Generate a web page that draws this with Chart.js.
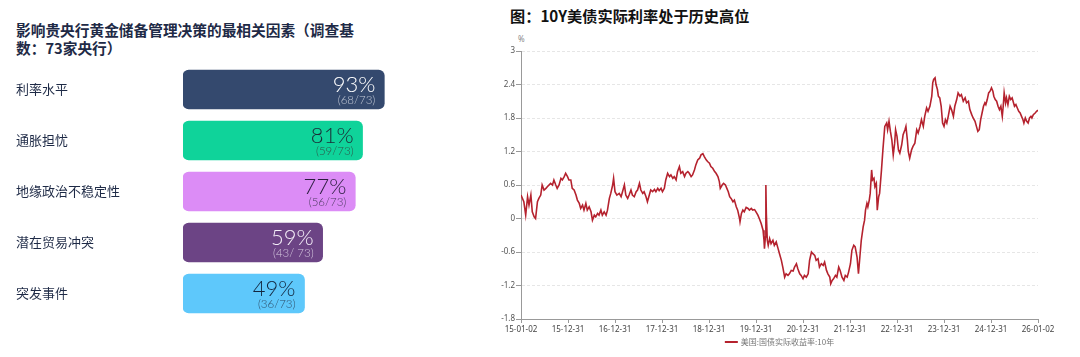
<!DOCTYPE html>
<html><head><meta charset="utf-8">
<script src="https://cdn.jsdelivr.net/npm/chart.js@4.4.1/dist/chart.umd.min.js"></script>
<style>
html,body{margin:0;padding:0;background:#fff}
body{width:1080px;height:357px;position:relative;overflow:hidden;font-family:"Noto Sans CJK SC",sans-serif}
#lt{position:absolute;left:16px;top:21px;font-size:14.7px;line-height:18px;font-weight:700;color:#1e2a46;white-space:nowrap}
#rt{position:absolute;left:510px;top:5px;font-size:15.2px;line-height:20px;font-weight:700;color:#111;white-space:nowrap}
#unit{position:absolute;left:518px;top:33px;font-size:8px;color:#888;font-family:"Noto Sans",sans-serif}
#c1{position:absolute;left:0;top:0}
#c2{position:absolute;left:480px;top:0}
</style></head>
<body>
<div id="lt">影响贵央行黄金储备管理决策的最相关因素（调查基<br>数：73家央行）</div>
<div id="rt">图：10Y美债实际利率处于历史高位</div>
<div id="unit">%</div>
<canvas id="c1" width="420" height="357"></canvas>
<canvas id="c2" width="600" height="357"></canvas>
<script>
// ---- left panel data ----
const factorLabels = ['利率水平','通胀担忧','地缘政治不稳定性','潜在贸易冲突','突发事件'];
const factorPct = [93, 81, 77, 59, 49];
const factorCounts = ['(68/73)','(59/73)','(56/73)','(43/ 73)','(36/73)'];
const barColors = ['#34496e','#0fd39a','#dc8cf6','#6c4485','#5ec8fb'];
const pctTextColors = ['#ffffff','#1b2b36','#2a1d3e','#f4eef8','#13263e'];
const subTextColors = ['#c3c9d6','#2f5548','#4b3a60','#d6c9df','#2e4d68'];

// ---- right panel data ----
const seriesName = '美国:国债实际收益率:10年';
const xTickPos = [2015,2016,2017,2018,2019,2020,2021,2022,2023,2024,2025,2026];
const xTickLabels = ['15-01-02','15-12-31','16-12-31','17-12-31','18-12-31','19-12-31','20-12-31','21-12-31','22-12-31','23-12-31','24-12-31','26-01-02'];
const yTickVals = [-1.8,-1.2,-0.6,0,0.6,1.2,1.8,2.4,3];
const yieldYears = [
2015.00,2015.06,2015.10,2015.14,2015.17,2015.21,2015.24,2015.28,2015.31,2015.35,2015.38,2015.42,2015.45,2015.49,2015.53,2015.56,2015.63,2015.67,2015.70,2015.74,
2015.77,2015.81,2015.85,2015.88,2015.92,2015.95,2015.99,2016.02,2016.06,2016.09,2016.13,2016.17,2016.20,2016.24,2016.27,2016.31,2016.34,2016.38,2016.41,2016.45,
2016.49,2016.52,2016.56,2016.59,2016.63,2016.66,2016.70,2016.73,2016.77,2016.81,2016.84,2016.88,2016.91,2016.95,2016.97,2017.00,2017.04,2017.09,2017.13,2017.16,
2017.20,2017.23,2017.27,2017.30,2017.34,2017.37,2017.41,2017.45,2017.48,2017.52,2017.55,2017.59,2017.62,2017.66,2017.69,
2017.73,2017.76,2017.80,2017.84,2017.87,2017.91,2017.94,2017.98,2018.01,2018.05,2018.08,2018.12,2018.16,2018.19,2018.23,2018.26,2018.30,2018.33,2018.37,2018.40,
2018.44,2018.48,2018.51,2018.55,2018.58,2018.62,2018.65,2018.69,2018.72,2018.76,2018.80,2018.83,2018.87,2018.90,2018.94,2018.97,2019.01,2019.04,2019.08,2019.12,
2019.15,2019.19,2019.22,2019.24,2019.28,2019.31,2019.35,2019.38,2019.41,2019.44,2019.47,2019.51,2019.54,2019.58,2019.61,2019.65,2019.66,2019.69,2019.72,2019.75,
2019.79,2019.83,2019.86,2019.90,2019.93,2019.97,2020.00,2020.04,2020.07,2020.11,2020.15,2020.17,2020.18,2020.20,2020.21,2020.22,2020.24,2020.26,2020.29,2020.32,
2020.36,2020.39,2020.43,2020.47,2020.50,2020.54,2020.57,2020.61,2020.64,2020.68,
2020.71,2020.75,2020.79,2020.82,2020.86,2020.89,2020.93,2020.96,2021.00,2021.03,2021.07,2021.11,2021.14,2021.18,2021.21,2021.25,2021.28,2021.32,2021.35,2021.39,
2021.43,2021.46,2021.50,2021.53,2021.57,2021.59,2021.62,2021.65,2021.69,2021.72,2021.76,2021.79,2021.83,2021.87,2021.90,2021.94,2021.97,2022.01,2022.04,2022.08,
2022.11,2022.15,2022.18,2022.21,2022.24,2022.28,2022.31,2022.33,2022.36,2022.38,2022.41,2022.43,2022.46,2022.48,2022.51,2022.53,2022.56,2022.58,2022.61,2022.63,
2022.67,2022.70,2022.74,2022.78,2022.80,2022.83,2022.86,2022.89,2022.92,2022.95,2022.97,2023.00,2023.03,2023.06,
2023.10,2023.13,2023.17,2023.19,2023.22,2023.24,2023.27,2023.31,2023.34,2023.38,2023.42,2023.45,2023.49,2023.52,2023.56,2023.59,2023.63,2023.66,2023.70,2023.74,
2023.76,2023.78,2023.81,2023.83,2023.86,2023.88,2023.91,2023.94,2023.97,2024.00,2024.03,2024.06,2024.09,2024.13,2024.16,2024.20,2024.23,2024.27,2024.30,2024.34,
2024.37,2024.41,2024.45,2024.48,2024.52,2024.55,2024.59,2024.62,2024.66,2024.69,2024.72,2024.75,2024.78,2024.81,2024.84,2024.87,2024.89,2024.92,2024.95,2024.98,
2025.01,2025.04,2025.06,2025.09,2025.12,2025.15,2025.18,2025.21,2025.24,2025.26,2025.28,2025.31,2025.33,2025.36,2025.39,2025.42,2025.45,2025.48,2025.50,2025.53,
2025.56,2025.59,2025.62,2025.65,2025.68,2025.70,2025.73,2025.76,2025.79,2025.82,2025.85,2025.87,2025.90,2025.94,2025.97,2026.00
];
const realYield = [
0.42,0.30,0.06,0.39,0.24,0.42,0.12,0.03,0.00,0.30,0.36,0.42,0.60,0.51,0.54,0.57,0.63,0.60,0.69,0.60,
0.54,0.60,0.72,0.69,0.75,0.81,0.75,0.69,0.69,0.54,0.51,0.42,0.33,0.27,0.18,0.24,0.15,0.27,0.15,0.21,
0.12,-0.03,0.06,0.03,0.09,0.06,0.15,0.06,0.12,0.06,0.15,0.36,0.45,0.60,0.72,0.48,0.42,0.45,0.39,0.48,
0.60,0.42,0.36,0.42,0.51,0.42,0.39,0.48,0.51,0.63,0.51,0.45,0.48,0.39,0.30,
0.42,0.51,0.48,0.52,0.48,0.54,0.50,0.54,0.48,0.54,0.69,0.81,0.75,0.78,0.72,0.75,0.69,0.84,0.93,0.81,
0.84,0.75,0.81,0.84,0.81,0.75,0.78,0.87,0.96,1.05,1.08,1.14,1.16,1.11,1.05,1.02,0.99,0.93,0.90,0.84,
0.81,0.75,0.66,0.54,0.60,0.63,0.60,0.54,0.48,0.39,0.36,0.30,0.33,0.21,0.15,0.00,-0.06,0.09,0.15,0.12,
0.20,0.18,0.15,0.18,0.15,0.16,0.12,0.06,0.00,-0.09,-0.21,-0.39,-0.54,-0.33,0.60,0.09,-0.39,-0.48,-0.36,-0.45,
-0.39,-0.48,-0.42,-0.54,-0.63,-0.75,-0.87,-1.05,-0.99,-1.02,
-0.99,-0.93,-0.94,-0.87,-0.81,-0.90,-0.99,-1.02,-1.08,-1.02,-1.05,-0.99,-0.75,-0.60,-0.63,-0.66,-0.75,-0.72,-0.87,-0.81,
-0.84,-0.78,-0.93,-0.99,-1.05,-1.17,-1.11,-1.08,-1.02,-1.05,-0.87,-0.93,-1.05,-1.11,-1.02,-1.05,-0.96,-0.81,-0.57,-0.48,
-0.51,-0.69,-0.99,-0.69,-0.39,-0.15,-0.03,0.15,0.27,0.21,0.33,0.45,0.87,0.69,0.72,0.57,0.63,0.15,0.39,0.45,
0.87,1.23,1.65,1.71,1.59,1.74,1.56,1.41,1.14,1.35,1.59,1.47,1.23,1.17,
1.32,1.50,1.59,1.65,1.41,1.20,1.08,1.23,1.29,1.35,1.59,1.53,1.65,1.77,1.65,1.83,1.98,1.92,2.01,2.19,
2.43,2.49,2.52,2.40,2.31,2.19,2.16,2.01,1.71,1.65,1.77,1.71,1.83,2.01,1.95,1.83,2.01,2.13,2.25,2.19,
2.22,2.10,2.16,2.07,2.10,1.95,1.86,1.80,1.74,1.65,1.56,1.59,1.77,1.89,2.01,2.07,2.04,2.13,2.25,2.28,
2.34,2.28,2.19,2.13,2.10,2.01,1.95,2.01,1.83,2.01,2.25,2.07,2.16,2.04,2.19,2.13,2.16,2.07,2.01,2.04,
1.98,1.92,1.89,1.83,1.77,1.71,1.80,1.74,1.71,1.80,1.83,1.80,1.86,1.89,1.92,1.94
];

// ---- left: horizontal bar chart ----
const barText = {
  id:'barText',
  afterDatasetsDraw(chart){
    const ctx = chart.ctx;
    const meta = chart.getDatasetMeta(0);
    ctx.save();
    ctx.textAlign = 'right';
    ctx.textBaseline = 'alphabetic';
    meta.data.forEach((bar,i)=>{
      const xr = bar.x - 9;
      ctx.fillStyle = pctTextColors[i];
      ctx.font = '300 22px Lato, "Open Sans", sans-serif';
      ctx.fillText(factorPct[i] + '%', xr, bar.y + 2.5);
      ctx.fillStyle = subTextColors[i];
      ctx.font = '300 11.5px Lato, "Open Sans", sans-serif';
      ctx.fillText(factorCounts[i], xr, bar.y + 14);
    });
    ctx.restore();
  }
};

new Chart(document.getElementById('c1'), {
  type:'bar',
  data:{
    labels:factorLabels,
    datasets:[{
      data:factorPct,
      backgroundColor:barColors,
      borderRadius:6,
      borderSkipped:false,
      barThickness:39,
      base:-18
    }]
  },
  options:{
    indexAxis:'y',
    responsive:false,
    animation:false,
    layout:{padding:{left:16, right:23, top:64, bottom:38}},
    scales:{
      x:{min:-18, max:100, display:false},
      y:{
        grid:{display:false},
        border:{display:false},
        ticks:{crossAlign:'far', color:'#1e2a46', padding:0,
          font:{family:'"Noto Sans CJK SC"', size:13}},
        afterFit(a){ a.width = 167; }
      }
    },
    plugins:{legend:{display:false}, tooltip:{enabled:false}}
  },
  plugins:[barText]
});

// ---- right: line chart ----
const legendDraw = {
  id:'legendDraw',
  afterDraw(chart){
    const {ctx, chartArea} = chart;
    const ds = chart.data.datasets[0];
    ctx.save();
    ctx.font = '8px "Noto Sans CJK SC", sans-serif';
    const tw = ctx.measureText(ds.label).width;
    const sw = 13, gap = 3;
    const x0 = (chartArea.left + chartArea.right)/2 - (sw + gap + tw)/2;
    const y = chartArea.bottom + 23;
    ctx.strokeStyle = ds.borderColor;
    ctx.lineWidth = 2;
    ctx.beginPath(); ctx.moveTo(x0, y); ctx.lineTo(x0 + sw, y); ctx.stroke();
    ctx.fillStyle = '#777';
    ctx.textBaseline = 'middle';
    ctx.textAlign = 'left';
    ctx.fillText(ds.label, x0 + sw + gap, y);
    ctx.restore();
  }
};

new Chart(document.getElementById('c2'), {
  type:'line',
  data:{
    datasets:[{
      label:seriesName,
      data:yieldYears.map((x,i)=>({x:x, y:realYield[i]})),
      borderColor:'#b5222e',
      backgroundColor:'#b5222e',
      borderWidth:1.6,
      pointRadius:0,
      tension:0
    }]
  },
  options:{
    responsive:false,
    animation:false,
    layout:{padding:{left:0, right:42, top:51, bottom:16}},
    scales:{
      x:{
        type:'linear', min:2015, max:2026,
        afterBuildTicks(a){ a.ticks = xTickPos.map(v=>({value:v})); },
        ticks:{autoSkip:false, maxRotation:0, padding:2, color:'#444',
          font:{family:'"Noto Sans", sans-serif', size:8},
          callback:(v,i)=>xTickLabels[i]},
        grid:{drawOnChartArea:false, drawTicks:true, tickLength:4, color:'#999'},
        border:{color:'#999', width:1},
        afterFit(a){ a.height = 22; }
      },
      y:{
        min:-1.8, max:3,
        afterBuildTicks(a){ a.ticks = yTickVals.map(v=>({value:v})); },
        ticks:{padding:1, color:'#555',
          font:{family:'"Noto Sans", sans-serif', size:8},
          callback:v=>String(Number(v.toFixed(1)))},
        grid:{color:'#e6e6e6', tickLength:5, tickColor:'#999', lineWidth:1},
        border:{color:'#999', width:1, dash:[3,2]},
        afterFit(a){ a.width = 41; }
      }
    },
    plugins:{legend:{display:false}, tooltip:{enabled:false}}
  },
  plugins:[legendDraw]
});
</script>
</body></html>
